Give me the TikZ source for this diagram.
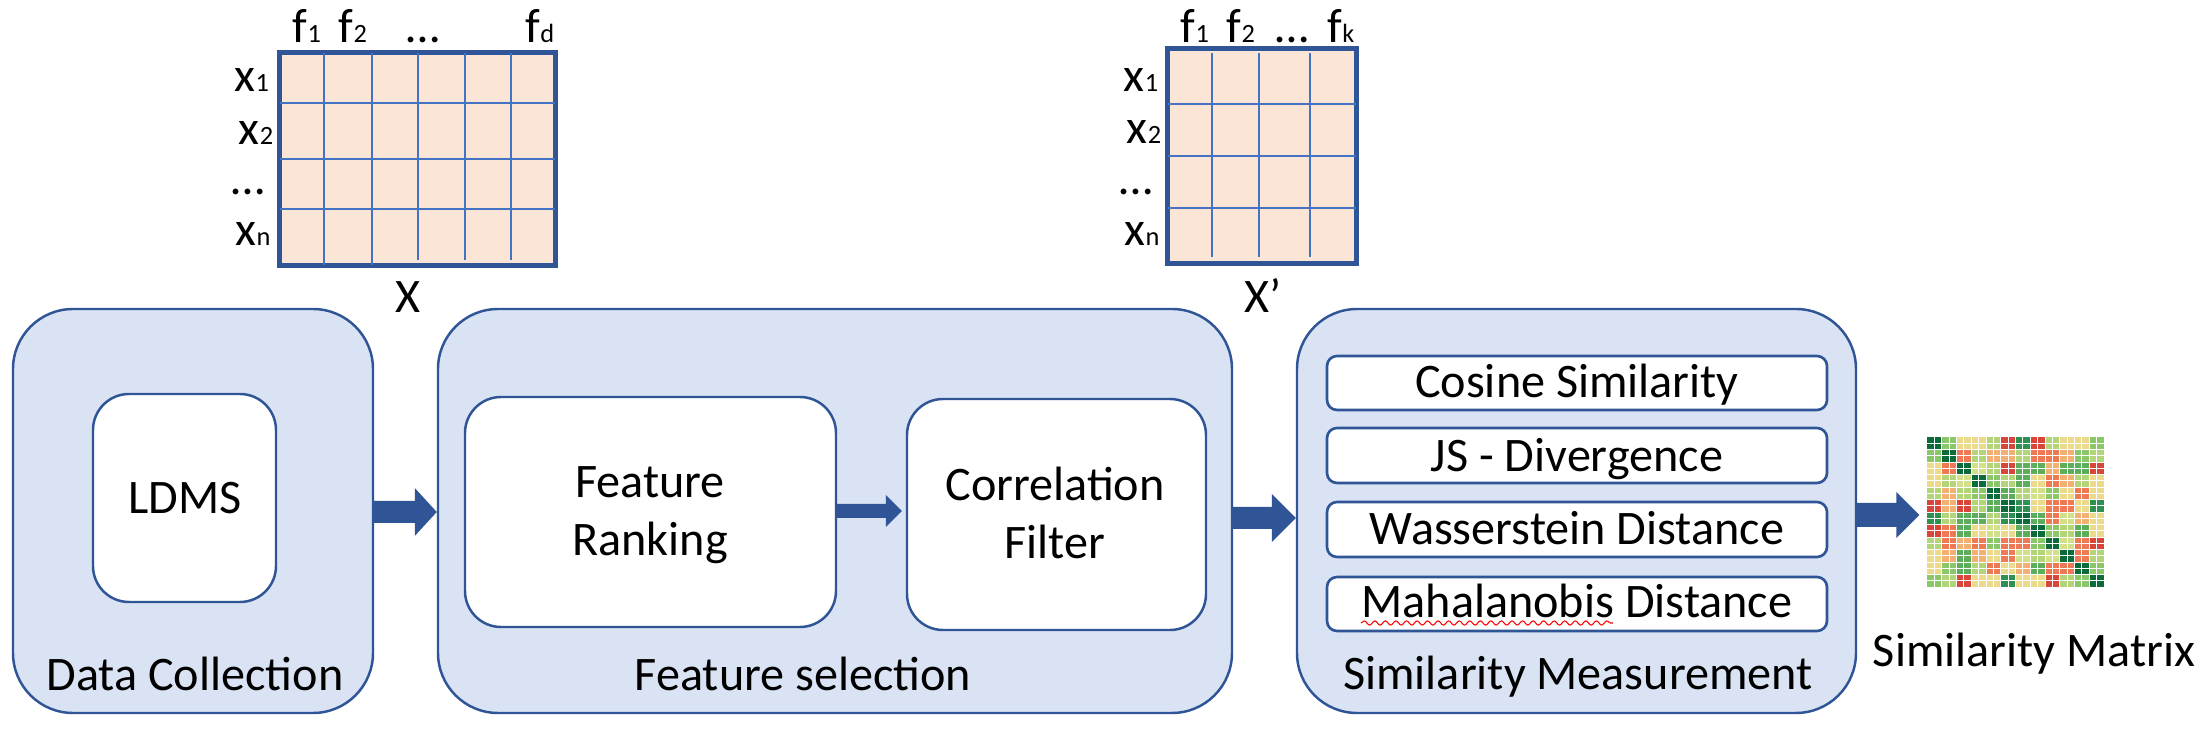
\documentclass[tikz,border=0pt]{standalone}
\usepackage{fontspec}
\setmainfont{Carlito}
\usetikzlibrary{calc,fit,decorations.pathmorphing}
\definecolor{boxfill}{HTML}{DAE3F3}
\definecolor{boxline}{HTML}{2F5597}
\definecolor{matfill}{HTML}{FBE5D6}
\definecolor{matline}{HTML}{2F5597}
\definecolor{gridc}{HTML}{4472C4}
\definecolor{arrowc}{HTML}{2F5597}
\definecolor{hm0}{HTML}{D9453A}
\definecolor{hm1}{HTML}{EE7A55}
\definecolor{hm2}{HTML}{F2B072}
\definecolor{hm3}{HTML}{EBD98C}
\definecolor{hm4}{HTML}{D3E08A}
\definecolor{hm5}{HTML}{B4D47A}
\definecolor{hm6}{HTML}{8CC66A}
\definecolor{hm7}{HTML}{5DAE5C}
\definecolor{hm8}{HTML}{2E9152}
\definecolor{hm9}{HTML}{0B6B3A}
\newcommand\sbs[1]{{\fontsize{7.5pt}{8pt}\selectfont #1}}
% block arrow: start coordinate, tip coordinate, shaft half, head half, head length
\newcommand\blkarrow[5]{%
  \fill[arrowc] ($(#1)+(0,-#3)$) -- ($(#2)+(-#5,-#3)$) -- ($(#2)+(-#5,-#4)$) -- (#2)
     -- ($(#2)+(-#5,#4)$) -- ($(#2)+(-#5,#3)$) -- ($(#1)+(0,#3)$) -- cycle;}
\begin{document}
\begin{tikzpicture}[x=0.01cm,y=-0.01cm,
  stage/.style={draw=boxline, fill=boxfill, line width=0.7pt, rounded corners=0.6cm, inner sep=0pt},
  inbox/.style={draw=boxline, fill=white, line width=0.7pt, rounded corners=0.36cm, inner sep=0pt},
  mbox/.style={draw=boxline, fill=white, line width=0.75pt, rounded corners=0.1cm, inner sep=0pt},
  mat/.style={draw=matline, fill=matfill, line width=0.9pt, inner sep=0pt},
  gridl/.style={draw=gridc, line width=0.3pt},
  txt/.style={font=\fontsize{13.7pt}{16.5pt}\selectfont, inner sep=0pt, anchor=base, align=center},
  hmbox/.style={inner sep=0pt, draw=none}
]
\useasboundingbox (0,0) rectangle (2211,737);

% ---------- matrix X ----------
\node[mat, fit={(280,53) (555,265)}] (mX) {};
\foreach \c in {324,372} \draw[gridl] (\c,53) -- (\c,265);
\foreach \c in {418,465,511} \draw[gridl] (\c,50) -- (\c,260);
\foreach \r in {103,159,209} \draw[gridl] (280,\r) -- (555,\r);
\draw[matline, line width=0.9pt] (mX.south west) rectangle (mX.north east);
\node[txt] (xf1) at (307,43) {f\sbs{1}};
\node[txt] (xf2) at (353,43) {f\sbs{2}};
\node[txt] (xfd) at (423,43) {…};
\node[txt] (xfe) at (540,43) {f\sbs{d}};
\node[txt] (xx1) at (252,92) {x\sbs{1}};
\node[txt] (xx2) at (256,145) {x\sbs{2}};
\node[txt] (xxd) at (248,195) {…};
\node[txt] (xxn) at (253,246) {x\sbs{n}};
\node[txt] (lX) at (408,313) {X};

% ---------- matrix X' ----------
\node[mat, fit={(1168,49) (1356,263)}] (mXp) {};
\foreach \c in {1212,1259,1310} \draw[gridl] (\c,53) -- (\c,257);
\foreach \r in {104,156,208} \draw[gridl] (1168,\r) -- (1356,\r);
\draw[matline, line width=0.9pt] (mXp.south west) rectangle (mXp.north east);
\node[txt] (pf1) at (1195,43) {f\sbs{1}};
\node[txt] (pf2) at (1241,43) {f\sbs{2}};
\node[txt] (pfd) at (1292,43) {…};
\node[txt] (pfk) at (1341,43) {f\sbs{k}};
\node[txt] (px1) at (1141,92) {x\sbs{1}};
\node[txt] (px2) at (1144,144) {x\sbs{2}};
\node[txt] (pxd) at (1136,195) {…};
\node[txt] (pxn) at (1142,246) {x\sbs{n}};
\node[txt] (lXp) at (1263,313) {X’};

% ---------- stages ----------
\node[stage, fit={(13,309) (373,713)}] (dc) {};
\node[stage, fit={(438,309) (1232,713)}] (fs) {};
\node[stage, fit={(1297,309) (1856,713)}] (sm) {};

\node[inbox, fit={(93,394) (276,602)}] (ldms) {};
\node[inbox, fit={(465,397) (836,627)}] (fr) {};
\node[inbox, fit={(907,399) (1206,630)}] (cf) {};

\node[mbox, fit={(1327,356) (1827,410)}] (m1) {};
\node[mbox, fit={(1327,428) (1827,483)}] (m2) {};
\node[mbox, fit={(1327,502) (1827,557)}] (m3) {};
\node[mbox, fit={(1327,577) (1827,631)}] (m4) {};

\node[txt] (tldms) at (185,514) {LDMS};
\node[txt] (tfr) at (650,556) {Feature\\Ranking};
\node[txt] (tcf) at (1055,559) {Correlation\\Filter};
\node[txt] (t1) at (1577,398) {Cosine Similarity};
\node[txt] (t2) at (1577,472) {JS - Divergence};
\node[txt] (t3) at (1577,545) {Wasserstein Distance};
\node[txt] (t4) at (1577,618) {Mahalanobis Distance};
\draw[red, line width=0.3pt, decorate, decoration={snake, amplitude=0.6pt, segment length=3pt}] (1361,623) -- (1613,623);

\node[txt] (tdc) at (195,691) {Data Collection};
\node[txt] (tfs) at (803,691) {Feature selection};
\node[txt] (tsm) at (1578,690) {Similarity Measurement};

% ---------- heat map ----------
\node[hmbox, fit={(1927,437) (2104,587)}] (hm) {};
\foreach \i in {0,...,11}{
  \foreach \j in {0,...,11}{
    \pgfmathtruncatemacro\a{min(\i,\j)}
    \pgfmathtruncatemacro\b{max(\i,\j)}
    \pgfmathtruncatemacro\v{mod(\a*\a*7+\b*\b*3+\b*13+\a*\b*29+11*(\a+\b)+5,20)}
    \pgfmathtruncatemacro\c{\i==\j ? 9 : {0,1,2,2,3,3,4,4,4,5,5,5,6,6,6,7,7,8,8,1}[\v]}
    \fill[hm\c] ({1927+\i*14.75},{437+\j*12.5}) rectangle ++(14.75,12.5);
  }
}
\foreach \k in {1,...,23}{
  \draw[white, line width=0.25pt] ({1927+\k*7.375},437) -- ++(0,150);
  \draw[white, line width=0.25pt] (1927,{437+\k*6.25}) -- ++(177,0);
}
\node[txt] (thm) at (2034,667) {Similarity Matrix};

% ---------- arrows ----------
\coordinate (a1s) at ($(dc.east)+(0,1)$);
\coordinate (a1e) at ($(fs.west)+(0,1)$);
\blkarrow{a1s}{a1e}{11}{24}{22}
\coordinate (a2s) at ($(fr.east)+(0,-1)$);
\coordinate (a2e) at ($(a2s -| cf.west)+(-4,0)$);
\blkarrow{a2s}{a2e}{7}{16}{16}
\coordinate (a3s) at ($(fs.east)+(0,7)$);
\coordinate (a3e) at ($(sm.west)+(0,7)$);
\blkarrow{a3s}{a3e}{11}{24}{24}
\coordinate (a4s) at ($(sm.east)+(0,4)$);
\coordinate (a4e) at ($(a4s -| hm.west)+(-7,0)$);
\blkarrow{a4s}{a4e}{12}{23}{23}
\end{tikzpicture}
\end{document}
